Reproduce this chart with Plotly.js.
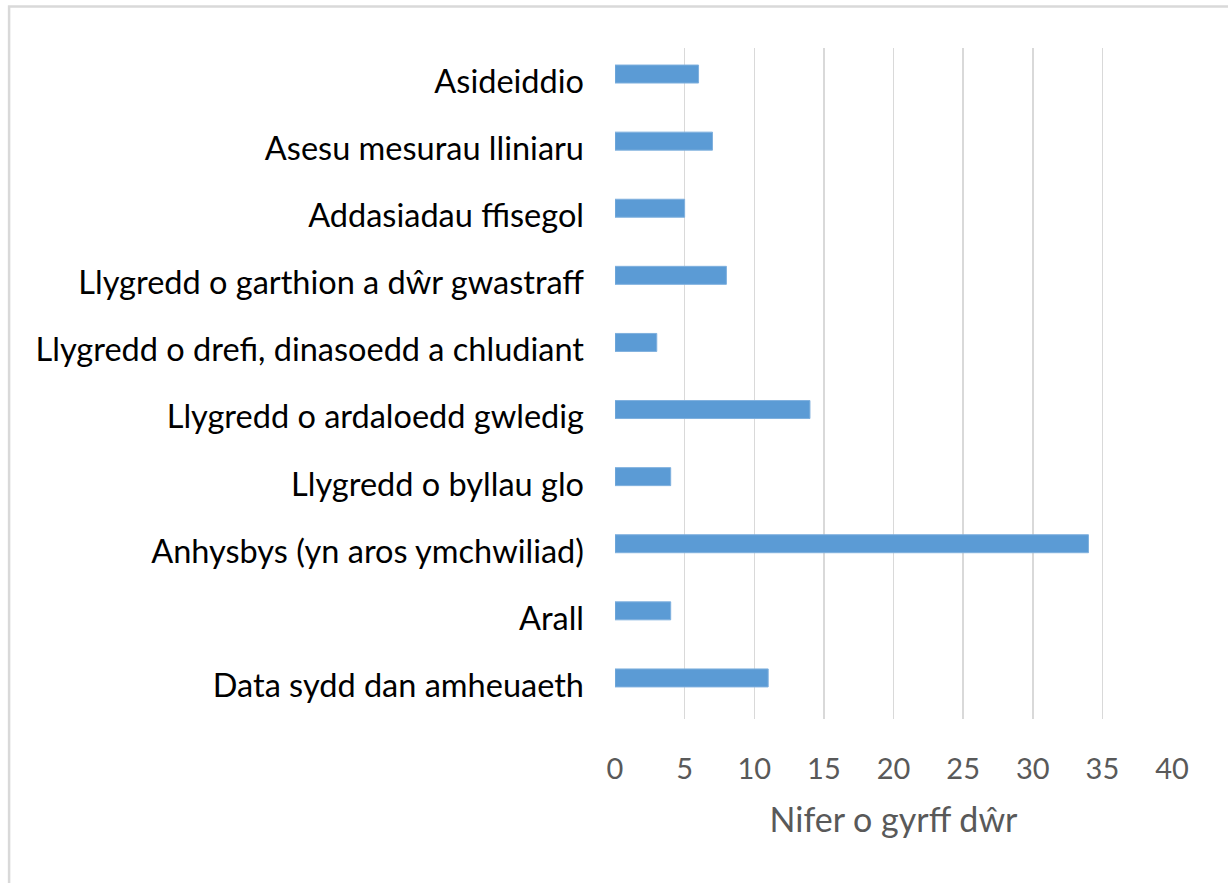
<!DOCTYPE html>
<html>
<head>
<meta charset="utf-8">
<script src="https://cdn.plot.ly/plotly-3.0.1.min.js"></script>
<style>
html,body{margin:0;padding:0;background:#fff;}
#chart{width:1228px;height:883px;}
</style>
</head>
<body>
<div id="chart"></div>
<script>
var categories = [
  "Asideiddio",
  "Asesu mesurau lliniaru",
  "Addasiadau ffisegol",
  "Llygredd o garthion a dŵr gwastraff",
  "Llygredd o drefi, dinasoedd a chludiant",
  "Llygredd o ardaloedd gwledig",
  "Llygredd o byllau glo",
  "Anhysbys (yn aros ymchwiliad)",
  "Arall",
  "Data sydd dan amheuaeth"
];
var counts = [6, 7, 5, 8, 3, 14, 4, 34, 4, 11];
var xTickValues = [0, 5, 10, 15, 20, 25, 30, 35, 40];
var xTitle = "Nifer o gyrff dŵr";

var fontFam = "Lato, 'Open Sans', sans-serif";

var trace = {
  type: 'bar',
  orientation: 'h',
  y: categories,
  x: counts,
  width: 0.268,
  offset: -0.246,
  marker: {color: '#5b9bd5', line: {color: '#7fb0de', width: 1}},
  hoverinfo: 'x+y'
};

var layout = {
  width: 1228,
  height: 883,
  margin: {l: 614.5, r: 55.5, t: 48, b: 164, pad: 0},
  paper_bgcolor: '#ffffff',
  plot_bgcolor: '#ffffff',
  showlegend: false,
  xaxis: {
    range: [0, 40],
    tickvals: xTickValues,
    ticktext: xTickValues.map(String),
    showgrid: true,
    gridcolor: '#d9d9d9',
    gridwidth: 1.5,
    zeroline: false,
    showline: false,
    ticks: '',
    ticklabelstandoff: 30,
    tickfont: {family: fontFam, size: 29, color: '#595959'},
    title: {text: xTitle, font: {family: fontFam, size: 34, color: '#595959'}, standoff: 24},
    fixedrange: true
  },
  yaxis: {
    type: 'category',
    autorange: 'reversed',
    showgrid: false,
    zeroline: false,
    showline: false,
    ticks: '',
    ticklabelstandoff: 30,
    tickfont: {family: fontFam, size: 32.5, color: '#000000'},
    fixedrange: true
  },
  shapes: [{
    type: 'rect',
    xref: 'paper', yref: 'paper',
    x0: (7.5 - 614.5) / 558, x1: 2,
    y0: -0.5, y1: (719 - 6.5) / 671,
    line: {color: '#d9d9d9', width: 2.5},
    layer: 'below'
  }]
};

Plotly.newPlot('chart', [trace], layout, {displayModeBar: false, staticPlot: true});
</script>
</body>
</html>
